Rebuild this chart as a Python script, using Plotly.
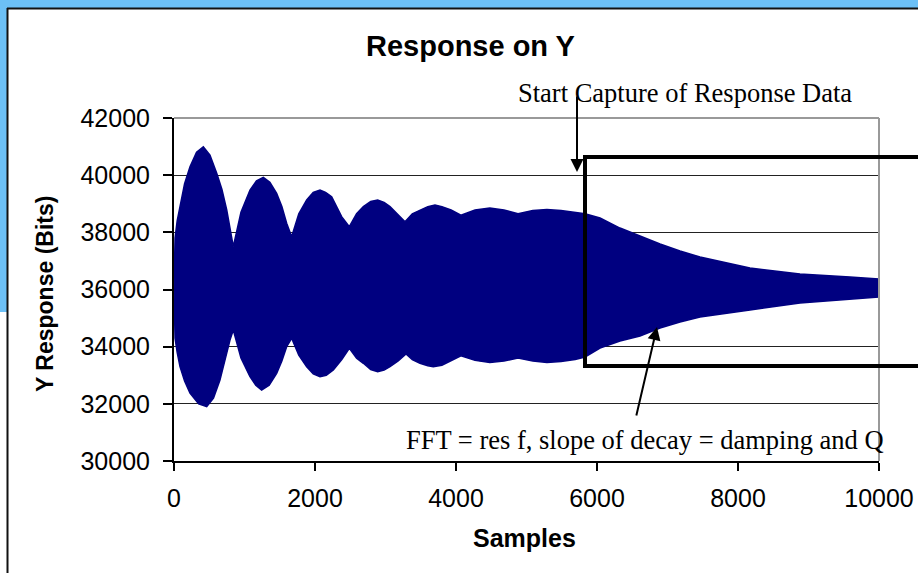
import plotly.graph_objects as go

# Upper and lower envelope of the oscillating Y response
top_samples = [0, 15, 45, 85, 150, 227, 320, 416, 510, 606, 680, 748, 800, 841,
               950, 1078, 1170, 1267, 1360, 1456, 1530, 1598, 1669,
               1770, 1882, 1975, 2071, 2150, 2236, 2310, 2378, 2487,
               2590, 2686, 2790, 2889, 2980, 3064, 3170, 3277,
               3380, 3489, 3600, 3702, 3800, 3930, 4070,
               4270, 4480, 4680, 4880, 5090, 5290, 5490, 5690, 5830,
               6043, 6326, 6610, 6894, 7177, 7461, 8170, 8879, 9589, 10000]
top_values = [36000, 37800, 38400, 38897, 39700, 40296, 40800, 40996, 40700, 40065, 39500, 38781, 38100, 37497,
              38700, 39481, 39800, 39925, 39750, 39366, 38900, 38316, 37847,
              38650, 39131, 39400, 39481, 39400, 39247, 38900, 38547, 38197,
              38650, 38897, 39080, 39131, 39050, 38897, 38650, 38372,
              38650, 38781, 38900, 38956, 38900, 38780, 38600,
              38780, 38850, 38780, 38650, 38760, 38800, 38760, 38700, 38650,
              38500, 38150, 37870, 37590, 37347, 37137, 36752, 36542, 36437, 36367]
bottom_samples = [0, 15, 45, 85, 150, 227, 350, 464, 560, 652, 730, 794, 841,
                  950, 1078, 1160, 1243, 1350, 1456, 1530, 1598, 1669,
                  1770, 1882, 1975, 2071, 2160, 2260, 2380, 2487,
                  2590, 2686, 2790, 2889, 2980, 3064, 3180, 3291,
                  3380, 3489, 3600, 3678, 3800, 3930, 4070,
                  4270, 4480, 4680, 4880, 5090, 5290, 5490, 5690, 5830,
                  6043, 6326, 6610, 6894, 7177, 7461, 8170, 8879, 9589, 10000]
bottom_values = [36000, 34300, 33800, 33300, 32800, 32379, 32000, 31900, 32200, 32834, 33600, 34233, 34583,
                 33600, 32950, 32650, 32484, 32650, 33068, 33500, 34000, 34292,
                 33700, 33300, 33050, 32950, 33000, 33184, 33550, 33943,
                 33600, 33418, 33200, 33126, 33180, 33300, 33500, 33744,
                 33550, 33418, 33330, 33300, 33350, 33500, 33680,
                 33520, 33450, 33500, 33600, 33500, 33450, 33480, 33550, 33640,
                 33953, 34199, 34373, 34653, 34863, 35038, 35283, 35528, 35668, 35738]

x_ticks = [0, 2000, 4000, 6000, 8000, 10000]
y_ticks = [30000, 32000, 34000, 36000, 38000, 40000, 42000]

W, H = 918, 573
L, R, T, B = 174, 879, 118, 461


def px(x):
    return x / W


def py(y):
    return 1 - y / H


poly_x = top_samples + bottom_samples[::-1]
poly_y = top_values + bottom_values[::-1]

fig = go.Figure()
fig.add_trace(go.Scatter(x=poly_x, y=poly_y, mode="lines", fill="toself",
                         fillcolor="#000080", line=dict(color="#000080", width=1.5),
                         hoverinfo="skip", showlegend=False))

sans = "Liberation Sans, Arial, sans-serif"
tick_font = dict(family=sans, size=25, color="black")
serif = dict(family="Liberation Serif, Times New Roman, serif", size=26.5, color="black")

fig.update_layout(
    width=W, height=H, autosize=False,
    margin=dict(l=0, r=0, t=0, b=0, pad=0, autoexpand=False),
    paper_bgcolor="white", plot_bgcolor="white",
    showlegend=False,
    xaxis=dict(domain=[px(L), px(R)], range=[0, 10000], tickvals=x_ticks,
               ticktext=[str(v) for v in x_ticks], ticks="outside", ticklen=8,
               tickcolor="black", tickwidth=2, showline=True, linecolor="black",
               linewidth=2, showgrid=False, zeroline=False, tickfont=tick_font,
               ticklabelstandoff=6, automargin=False),
    yaxis=dict(domain=[py(B), py(T)], range=[30000, 42000], tickvals=y_ticks,
               ticktext=[str(v) for v in y_ticks], ticks="outside", ticklen=9,
               tickcolor="black", tickwidth=2, showline=True, linecolor="black",
               linewidth=2, showgrid=True, gridcolor="#222222", gridwidth=1.2,
               zeroline=False, tickfont=tick_font, ticklabelstandoff=8,
               automargin=False),
)

thick = dict(color="black", width=4)
shapes = [
    # light blue frame strips
    dict(type="rect", xref="paper", yref="paper", x0=0, x1=1, y0=py(8), y1=1,
         fillcolor="#6cc0f6", line=dict(width=0), layer="below"),
    dict(type="rect", xref="paper", yref="paper", x0=0, x1=px(7), y0=py(312), y1=1,
         fillcolor="#6cc0f6", line=dict(width=0), layer="below"),
    # black panel border
    dict(type="line", xref="paper", yref="paper", x0=px(7), x1=1, y0=py(8.5), y1=py(8.5),
         line=dict(color="#111111", width=2)),
    dict(type="line", xref="paper", yref="paper", x0=px(7.5), x1=px(7.5), y0=0, y1=py(8),
         line=dict(color="#111111", width=2)),
    # gray plot-area border top and right
    dict(type="line", xref="paper", yref="paper", x0=px(L), x1=px(R), y0=py(T), y1=py(T),
         line=dict(color="#999999", width=2)),
    dict(type="line", xref="paper", yref="paper", x0=px(R), x1=px(R), y0=py(B), y1=py(T),
         line=dict(color="#999999", width=2)),
    # y axis line continues slightly below the x axis
    dict(type="line", xref="paper", yref="paper", x0=px(L), x1=px(L), y0=py(469), y1=py(B),
         line=dict(color="black", width=2)),
    # thick capture rectangle (right side lies beyond the picture)
    dict(type="line", xref="paper", yref="paper", x0=px(583), x1=1, y0=py(157), y1=py(157),
         line=thick),
    dict(type="line", xref="paper", yref="paper", x0=px(585), x1=px(585), y0=py(368),
         y1=py(155), line=thick),
    dict(type="line", xref="paper", yref="paper", x0=px(583), x1=1, y0=py(366), y1=py(366),
         line=thick),
]
fig.update_layout(shapes=shapes)

C = dict(xanchor="center", yanchor="middle", showarrow=False)
annotations = [
    dict(text="<b>Response on Y</b>", xref="paper", yref="paper", x=px(470), y=py(46),
         font=dict(family=sans, size=29, color="black"), **C),
    dict(text="<b>Samples</b>", xref="paper", yref="paper", x=px(524), y=py(538),
         font=dict(family=sans, size=25, color="black"), **C),
    dict(text="<b>Y Response (Bits)</b>", xref="paper", yref="paper", x=px(45), y=py(294),
         textangle=-90, font=dict(family=sans, size=23, color="black"), **C),
    dict(text="Start Capture of Response Data", xref="paper", yref="paper",
         x=px(685), y=py(93), font=serif, **C),
    dict(text="FFT = res f, slope of decay = damping and Q", xref="paper", yref="paper",
         x=px(645), y=py(440), font=serif, **C),
    dict(text="", xref="paper", yref="paper", x=px(577), y=py(172), ax=0, ay=-77,
         showarrow=True, arrowhead=2, arrowsize=1.3, arrowwidth=2, arrowcolor="black"),
    dict(text="", xref="paper", yref="paper", x=px(657), y=py(327), ax=-21, ay=90,
         showarrow=True, arrowhead=2, arrowsize=1.3, arrowwidth=2, arrowcolor="black"),
]
fig.update_layout(annotations=annotations)

fig.write_html("out.html", config={"responsive": False},
               post_script="document.body.style.margin='0';"
                           "document.documentElement.style.margin='0';"
                           "document.body.style.overflow='hidden';")
